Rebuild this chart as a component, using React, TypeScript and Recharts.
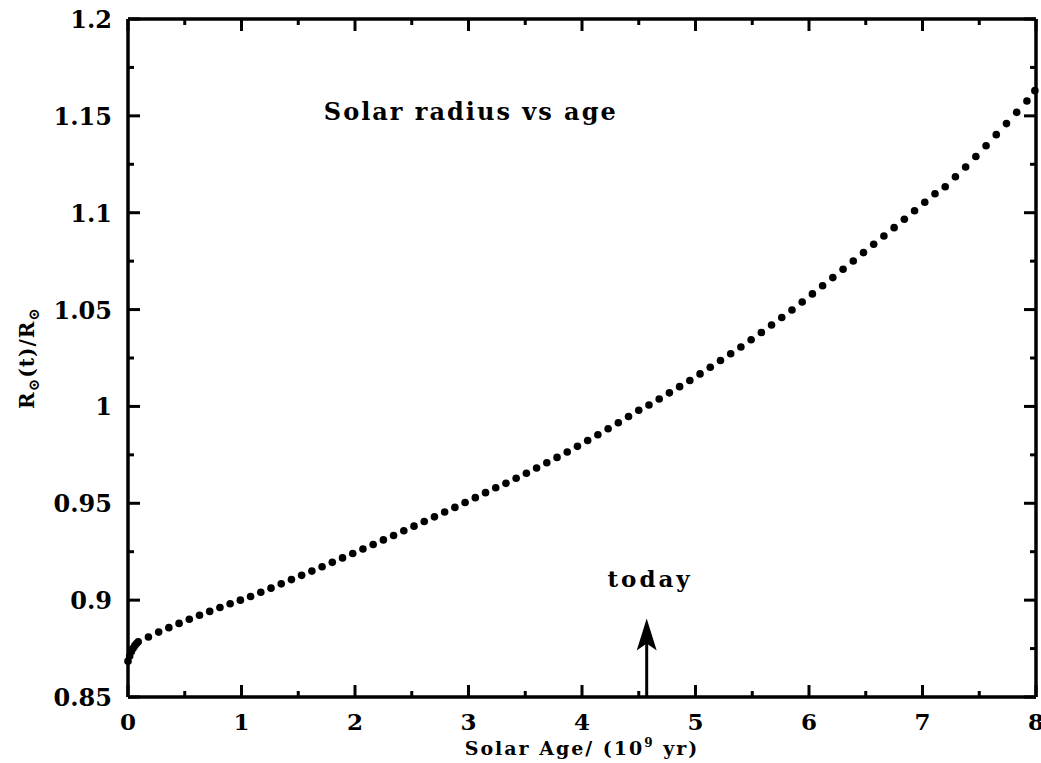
import {
  ScatterChart,
  Scatter,
  XAxis,
  YAxis,
  ReferenceLine,
  ReferenceDot,
} from 'recharts';

// age in Gyr, radius in units of today's solar radius
const ages = [
  0, 0.015, 0.03, 0.045, 0.06, 0.075, 0.09, 0.18, 0.27, 0.36,
  0.45, 0.54, 0.63, 0.72, 0.81, 0.9, 0.99, 1.08, 1.17, 1.26,
  1.35, 1.44, 1.53, 1.62, 1.71, 1.8, 1.89, 1.98, 2.07, 2.16,
  2.25, 2.34, 2.43, 2.52, 2.61, 2.7, 2.79, 2.88, 2.97, 3.06,
  3.15, 3.24, 3.33, 3.42, 3.51, 3.6, 3.69, 3.78, 3.87, 3.96,
  4.05, 4.14, 4.23, 4.32, 4.41, 4.5, 4.59, 4.68, 4.77, 4.86,
  4.95, 5.04, 5.13, 5.22, 5.31, 5.4, 5.49, 5.58, 5.67, 5.76,
  5.85, 5.94, 6.03, 6.12, 6.21, 6.3, 6.39, 6.48, 6.57, 6.66,
  6.75, 6.84, 6.93, 7.02, 7.11, 7.2, 7.29, 7.38, 7.47, 7.56,
  7.65, 7.74, 7.83, 7.92, 7.99,
];
const radii = [
  0.8685, 0.8712, 0.8735, 0.8752, 0.8765, 0.8776, 0.8785, 0.881, 0.8835, 0.8858,
  0.888, 0.8901, 0.8922, 0.8942, 0.8962, 0.8981, 0.9, 0.9019, 0.9041, 0.9062,
  0.9084, 0.9106, 0.9128, 0.915, 0.9172, 0.9195, 0.9218, 0.9241, 0.9264, 0.9287,
  0.9311, 0.9334, 0.9358, 0.9382, 0.9406, 0.943, 0.9455, 0.9479, 0.9504, 0.9529,
  0.9555, 0.958, 0.9603, 0.9629, 0.9655, 0.9682, 0.9709, 0.9737, 0.9765, 0.9794,
  0.9824, 0.9854, 0.9885, 0.9916, 0.9948, 0.998, 1.0007, 1.0038, 1.007, 1.0102,
  1.0134, 1.0168, 1.0202, 1.0237, 1.0272, 1.0307, 1.0344, 1.0382, 1.042, 1.0459,
  1.0498, 1.0539, 1.0581, 1.0623, 1.0665, 1.0708, 1.0751, 1.0794, 1.0837, 1.088,
  1.0923, 1.0966, 1.101, 1.1054, 1.1098, 1.1134, 1.1186, 1.1236, 1.129, 1.1346,
  1.1403, 1.146, 1.1518, 1.1577, 1.163,
];

const xTicks = [0, 0.5, 1, 1.5, 2, 2.5, 3, 3.5, 4, 4.5, 5, 5.5, 6, 6.5, 7, 7.5, 8];
const xTickLabels = ['0', '1', '2', '3', '4', '5', '6', '7', '8'];
const yTicks = [0.85, 0.875, 0.9, 0.925, 0.95, 0.975, 1, 1.025, 1.05, 1.075, 1.1, 1.125, 1.15, 1.175, 1.2];
const yTickLabels = ['0.85', '0.9', '0.95', '1', '1.05', '1.1', '1.15', '1.2'];

const todayAge = 4.57;

const points = ages.map((age, i) => ({ age, radius: radii[i] }));

const FONT = '"DejaVu Serif", serif';
const MAJOR = 12;
const MINOR = 6;
const AXIS = { stroke: '#000', strokeWidth: 3.5 };
// frame edges (plot area) used for the mirrored ticks
const TOP = 19;
const RIGHT = 1036;

// bottom ticks also draw the mirrored ticks on the top frame
const BottomTick = (p: any) => {
  const major = p.index % 2 === 0;
  const len = major ? MAJOR : MINOR;
  return (
    <g>
      <line x1={p.x} y1={p.y} x2={p.x} y2={p.y - len} stroke="#000" strokeWidth={3} />
      <line x1={p.x} y1={TOP} x2={p.x} y2={TOP + len} stroke="#000" strokeWidth={3} />
      {major && (
        <text x={p.x} y={p.y + 33} textAnchor="middle" fontFamily={FONT} fontWeight="bold" fontSize={23} fill="#000">
          {xTickLabels[p.index / 2]}
        </text>
      )}
    </g>
  );
};

// left ticks also draw the mirrored ticks on the right frame
const LeftTick = (p: any) => {
  const major = p.index % 2 === 0;
  const len = major ? MAJOR : MINOR;
  return (
    <g>
      <line x1={p.x} y1={p.y} x2={p.x + len} y2={p.y} stroke="#000" strokeWidth={3} />
      <line x1={RIGHT} y1={p.y} x2={RIGHT - len} y2={p.y} stroke="#000" strokeWidth={3} />
      {major && (
        <text x={p.x - 16} y={p.y + 9} textAnchor="end" fontFamily={FONT} fontWeight="bold" fontSize={24} fill="#000">
          {yTickLabels[p.index / 2]}
        </text>
      )}
    </g>
  );
};

const XTitle = (p: any) => {
  const vb = p.viewBox;
  return (
    <text x={vb.x + vb.width / 2} y={vb.y + 58} textAnchor="middle" fontFamily={FONT} fontWeight="bold" fontSize={19} letterSpacing={2} fill="#000">
      Solar Age/ (10
      <tspan dy={-8} fontSize={12}>9</tspan>
      <tspan dy={8}> yr)</tspan>
    </text>
  );
};

const YTitle = (p: any) => {
  const vb = p.viewBox;
  const cx = 27;
  const cy = vb.y + vb.height / 2;
  return (
    <text x={cx} y={cy} transform={`rotate(-90 ${cx} ${cy})`} dy={7} textAnchor="middle" fontFamily={FONT} fontWeight="bold" fontSize={20} letterSpacing={1} fill="#000">
      R
      <tspan dy={5} fontSize={15}>⊙</tspan>
      <tspan dy={-5}>(t)/R</tspan>
      <tspan dy={5} fontSize={15}>⊙</tspan>
    </text>
  );
};

const Arrow = (p: any) => {
  const x = p.x1;
  const top = Math.min(p.y1, p.y2);
  const bottom = Math.max(p.y1, p.y2);
  return (
    <g>
      <line x1={x} y1={bottom} x2={x} y2={top + 10} stroke="#000" strokeWidth={3} />
      <polygon points={`${x},${top} ${x + 10},${top + 32} ${x},${top + 25} ${x - 10},${top + 32}`} fill="#000" />
    </g>
  );
};

export default function App() {
  return (
    <div style={{ position: 'fixed', left: 0, top: 0, background: '#fff' }}>
      <ScatterChart width={1041} height={763} margin={{ top: 18, right: 4, bottom: 0, left: 0 }}>
        <XAxis
          xAxisId="b"
          type="number"
          dataKey="age"
          domain={[0, 8]}
          ticks={xTicks}
          interval={0}
          height={66}
          tickSize={0}
          tickMargin={0}
          axisLine={AXIS}
          tickLine={false}
          tick={BottomTick}
          label={<XTitle />}
        />
        <XAxis
          xAxisId="t"
          orientation="top"
          type="number"
          dataKey="age"
          domain={[0, 8]}
          height={1}
          axisLine={AXIS}
          tickLine={false}
          tick={false}
        />
        <YAxis
          yAxisId="l"
          type="number"
          dataKey="radius"
          domain={[0.85, 1.2]}
          ticks={yTicks}
          interval={0}
          width={128}
          tickSize={0}
          tickMargin={0}
          axisLine={AXIS}
          tickLine={false}
          tick={LeftTick}
          label={<YTitle />}
        />
        <YAxis
          yAxisId="r"
          orientation="right"
          type="number"
          dataKey="radius"
          domain={[0.85, 1.2]}
          width={1}
          axisLine={AXIS}
          tickLine={false}
          tick={false}
        />
        <Scatter
          xAxisId="b"
          yAxisId="l"
          data={points}
          isAnimationActive={false}
          shape={(p: any) => <circle cx={p.cx} cy={p.cy} r={3.8} fill="#000" />}
        />
        <ReferenceLine
          xAxisId="b"
          yAxisId="l"
          segment={[
            { x: todayAge, y: 0.85 },
            { x: todayAge, y: 0.8905 },
          ]}
          shape={Arrow}
        />
        <ReferenceDot
          xAxisId="b"
          yAxisId="l"
          x={4.6}
          y={0.9068}
          shape={(p: any) => (
            <text x={p.cx} y={p.cy} textAnchor="middle" fontFamily={FONT} fontWeight="bold" fontSize={23} letterSpacing={3} fill="#000">
              today
            </text>
          )}
        />
        <ReferenceDot
          xAxisId="b"
          yAxisId="l"
          x={3.02}
          y={1.148}
          shape={(p: any) => (
            <text x={p.cx} y={p.cy} textAnchor="middle" fontFamily={FONT} fontWeight="bold" fontSize={24} letterSpacing={2} fill="#000">
              Solar radius vs age
            </text>
          )}
        />
      </ScatterChart>
    </div>
  );
}
